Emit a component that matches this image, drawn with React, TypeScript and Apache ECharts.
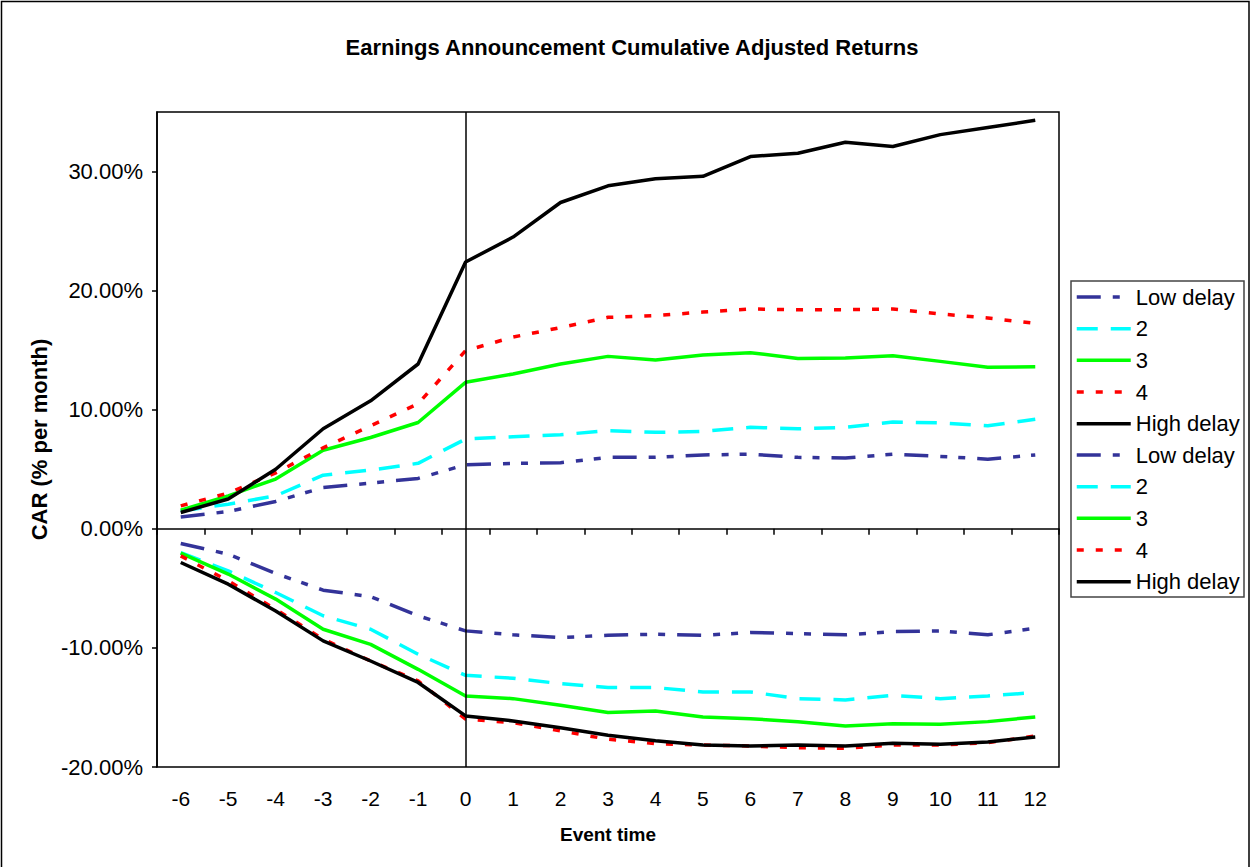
import React, { useEffect, useRef } from "react";
import * as echarts from "echarts";

const categories = ["-6", "-5", "-4", "-3", "-2", "-1", "0", "1", "2", "3", "4", "5", "6", "7", "8", "9", "10", "11", "12"];
const seriesNames = ["Low delay", "2", "3", "4", "High delay"];

const topLow = [1.0, 1.45, 2.3, 3.47, 3.84, 4.23, 5.38, 5.49, 5.55, 6.0, 6.0, 6.2, 6.27, 6.0, 5.94, 6.27, 6.08, 5.85, 6.2];
const top2 = [1.5, 2.07, 2.77, 4.5, 4.93, 5.5, 7.54, 7.73, 7.9, 8.24, 8.1, 8.18, 8.52, 8.4, 8.52, 8.96, 8.9, 8.66, 9.2];
const top3 = [1.57, 2.77, 4.18, 6.6, 7.67, 8.93, 12.3, 13.0, 13.84, 14.48, 14.17, 14.59, 14.79, 14.31, 14.34, 14.54, 14.06, 13.56, 13.6];
const top4 = [1.93, 3.0, 4.7, 6.8, 8.65, 10.5, 14.96, 16.1, 16.9, 17.76, 17.9, 18.2, 18.46, 18.4, 18.4, 18.46, 18.04, 17.7, 17.25];
const topHigh = [1.37, 2.5, 5.0, 8.4, 10.75, 13.84, 22.4, 24.5, 27.4, 28.8, 29.4, 29.6, 31.26, 31.54, 32.46, 32.1, 33.1, 33.7, 34.3];

const botLow = [-1.23, -2.13, -3.75, -5.15, -5.7, -7.3, -8.57, -8.9, -9.13, -8.94, -8.85, -8.94, -8.71, -8.8, -8.9, -8.63, -8.57, -8.9, -8.35];
const bot2 = [-1.99, -3.53, -5.35, -7.3, -8.43, -10.53, -12.3, -12.55, -13.0, -13.33, -13.33, -13.7, -13.7, -14.26, -14.37, -13.98, -14.26, -14.03, -13.75];
const bot3 = [-2.04, -3.8, -5.9, -8.43, -9.7, -11.8, -14.03, -14.26, -14.82, -15.43, -15.3, -15.8, -15.94, -16.2, -16.55, -16.36, -16.41, -16.19, -15.8];
const bot4 = [-2.27, -4.37, -6.75, -9.27, -11.1, -12.77, -15.99, -16.27, -16.97, -17.67, -18.04, -18.15, -18.24, -18.38, -18.43, -18.15, -18.15, -17.96, -17.4];
const botHigh = [-2.83, -4.65, -6.9, -9.41, -11.1, -12.9, -15.71, -16.13, -16.7, -17.34, -17.8, -18.15, -18.24, -18.15, -18.24, -18.0, -18.1, -17.9, -17.48];

const topGroup = [topLow, top2, top3, top4, topHigh];
const botGroup = [botLow, bot2, bot3, bot4, botHigh];

const styles: any[] = [
  { color: "#333399", type: [24, 12, 7, 11, 7, 12] },
  { color: "#00FFFF", type: [21, 13] },
  { color: "#00FF00", type: "solid" },
  { color: "#FF0000", type: [7, 12] },
  { color: "#000000", type: "solid" },
];

const FONT = "Liberation Sans, Arial, sans-serif";

export default function App() {
  const ref = useRef<HTMLDivElement>(null);
  useEffect(() => {
    document.body.style.margin = "0";
    const chart = echarts.init(ref.current!, null, { renderer: "svg" });
    const makeSeries = (group: number[][], withMark: boolean) =>
      group.map((data, i) => ({
        name: seriesNames[i],
        type: "line",
        xAxisIndex: 0,
        yAxisIndex: 0,
        data,
        symbol: "none",
        showSymbol: false,
        itemStyle: { color: styles[i].color },
        lineStyle: { color: styles[i].color, width: 3.5, type: styles[i].type },
        z: 3,
        markLine: withMark && i === 0
          ? {
              silent: true,
              symbol: ["none", "none"],
              label: { show: false },
              lineStyle: { color: "#000", width: 1.5, type: "solid" },
              data: [{ xAxis: "0" }],
            }
          : undefined,
      }));
    const legendBase = {
      orient: "vertical",
      left: 1075,
      padding: 0,
      itemWidth: 54,
      itemHeight: 18,
      itemGap: 9.67,
      itemStyle: { opacity: 0 },
      lineStyle: { width: 3.5 },
      textStyle: { fontSize: 22, color: "#000", fontFamily: FONT },
      data: seriesNames,
      selectedMode: false,
    };
    chart.setOption({
      animation: false,
      backgroundColor: "#fff",
      textStyle: { fontFamily: FONT },
      title: {
        text: "Earnings Announcement Cumulative Adjusted Returns",
        left: 627,
        textAlign: "center",
        top: 31,
        textStyle: { fontSize: 22, fontWeight: "bold", color: "#000", fontFamily: FONT },
      },
      graphic: [
        {
          type: "rect",
          shape: { x: 1.5, y: 1.5, width: 1247.5, height: 870 },
          style: { fill: "none", stroke: "#000", lineWidth: 1.5 },
          silent: true,
          z: -10,
        },
        {
          type: "rect",
          shape: { x: 1071, y: 281, width: 173, height: 316 },
          style: { fill: "#fff", stroke: "#444", lineWidth: 1.5 },
          silent: true,
          z: -1,
        },
      ],
      legend: [
        { ...legendBase, top: 286 },
        { ...legendBase, top: 444 },
      ],
      grid: {
        left: 157,
        right: 192,
        top: 112,
        bottom: 100,
        show: true,
        borderColor: "#000",
        borderWidth: 1.5,
        backgroundColor: "transparent",
      },
      xAxis: [
        {
          type: "category",
          data: categories,
          position: "bottom",
          boundaryGap: true,
          axisLine: { show: true, onZero: true, lineStyle: { color: "#000", width: 1.5 } },
          axisTick: { show: true, length: 6, lineStyle: { color: "#000", width: 1.5 } },
          axisLabel: { show: false },
          splitLine: { show: false },
        },
        {
          type: "category",
          data: categories,
          position: "bottom",
          boundaryGap: true,
          axisLine: { show: false, onZero: false },
          axisTick: { show: false },
          axisLabel: { show: true, fontSize: 21, color: "#000", margin: 21, fontFamily: FONT },
          splitLine: { show: false },
          name: "Event time",
          nameLocation: "middle",
          nameGap: 58,
          nameTextStyle: { fontSize: 19, fontWeight: "bold", color: "#000", fontFamily: FONT },
        },
      ],
      yAxis: {
        type: "value",
        min: -20,
        max: 35,
        interval: 10,
        axisLine: { show: true, lineStyle: { color: "#000", width: 1.5 } },
        axisTick: { show: true, length: 5, lineStyle: { color: "#000", width: 1.5 } },
        axisLabel: {
          fontSize: 22,
          color: "#000",
          margin: 14,
          showMaxLabel: false,
          fontFamily: FONT,
          formatter: (v: number) => (v > 34 ? "" : v.toFixed(2) + "%"),
        },
        splitLine: { show: false },
        name: "CAR (% per month)",
        nameLocation: "middle",
        nameRotate: 90,
        nameGap: 98,
        nameTextStyle: { fontSize: 22, fontWeight: "bold", color: "#000", fontFamily: FONT },
      },
      series: [...makeSeries(topGroup, true), ...makeSeries(botGroup, false)],
    });
    return () => chart.dispose();
  }, []);
  return <div ref={ref} style={{ position: "absolute", left: 0, top: 0, width: 1251, height: 867 }} />;
}
